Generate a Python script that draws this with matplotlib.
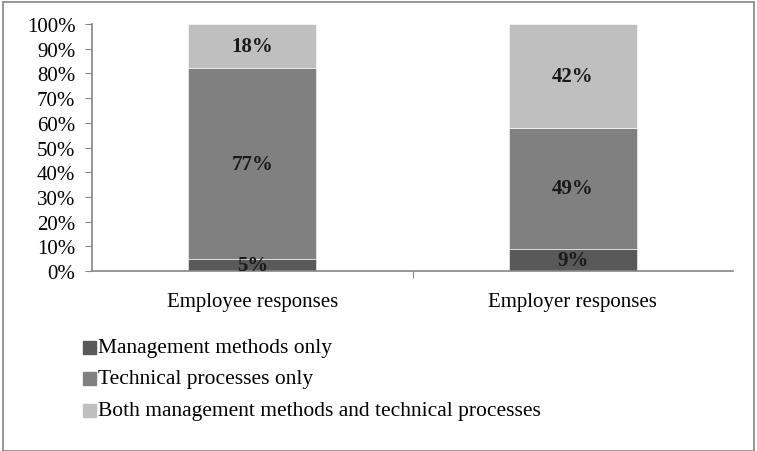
import matplotlib.pyplot as plt
from matplotlib.patches import Rectangle

plt.rcParams['font.family'] = ['Liberation Serif', 'DejaVu Serif']

groups = ["Employee responses", "Employer responses"]
series = ["Management methods only", "Technical processes only",
          "Both management methods and technical processes"]
management = [5, 9]
technical = [77, 49]
both = [18, 42]
colors = ["#595959", "#808080", "#bfbfbf"]

fig = plt.figure(figsize=(7.57, 4.52), dpi=100)
ax = fig.add_axes([92 / 757, 1 - 272 / 452, (733 - 92) / 757, (272 - 25) / 452])

x = [0, 1]
bottom = [0, 0]
for vals, col, name in zip([management, technical, both], colors, series):
    ax.bar(x, vals, width=0.4, bottom=bottom, color=col, label=name,
           edgecolor="white", linewidth=0.4)
    for xi, b, v in zip(x, bottom, vals):
        ax.text(xi, b + v / 2, f"{v}%", ha="center", va="center",
                fontsize=15, fontweight="bold", color="#1a1a1a")
    bottom = [b + v for b, v in zip(bottom, vals)]

ax.set_xlim(-0.5, 1.5)
ax.set_ylim(0, 100)
ax.set_yticks(range(0, 101, 10))
ax.set_yticklabels([f"{t}%" for t in range(0, 101, 10)], fontsize=15)
ax.set_xticks([0.5])
ax.set_xticklabels([""])
for xi, g in zip(x, groups):
    ax.text(xi, -12.5, g, ha="center", va="center", fontsize=15)
ax.tick_params(axis="y", length=5, color="#868686", pad=7)
ax.tick_params(axis="x", length=5, color="#868686")
for s in ["top", "right"]:
    ax.spines[s].set_visible(False)
for s in ["left", "bottom"]:
    ax.spines[s].set_color("#868686")
    ax.spines[s].set_linewidth(1.2)

# legend laid out under the plot
leg_y = [349, 380, 412]
for name, col, yy in zip(series, colors, leg_y):
    fig.patches.append(Rectangle((83 / 757, 1 - (yy + 6) / 452), 13 / 757, 13 / 452,
                                 transform=fig.transFigure, color=col))
    fig.text(98 / 757, 1 - yy / 452, name, ha="left", va="center", fontsize=15.5)

# outer chart border
fig.patches.append(Rectangle((3 / 757, 0), 751 / 757, 1 - 3 / 452,
                             transform=fig.transFigure, fill=False,
                             edgecolor="#868686", linewidth=1.2))

fig.savefig("out.png", dpi=100)
